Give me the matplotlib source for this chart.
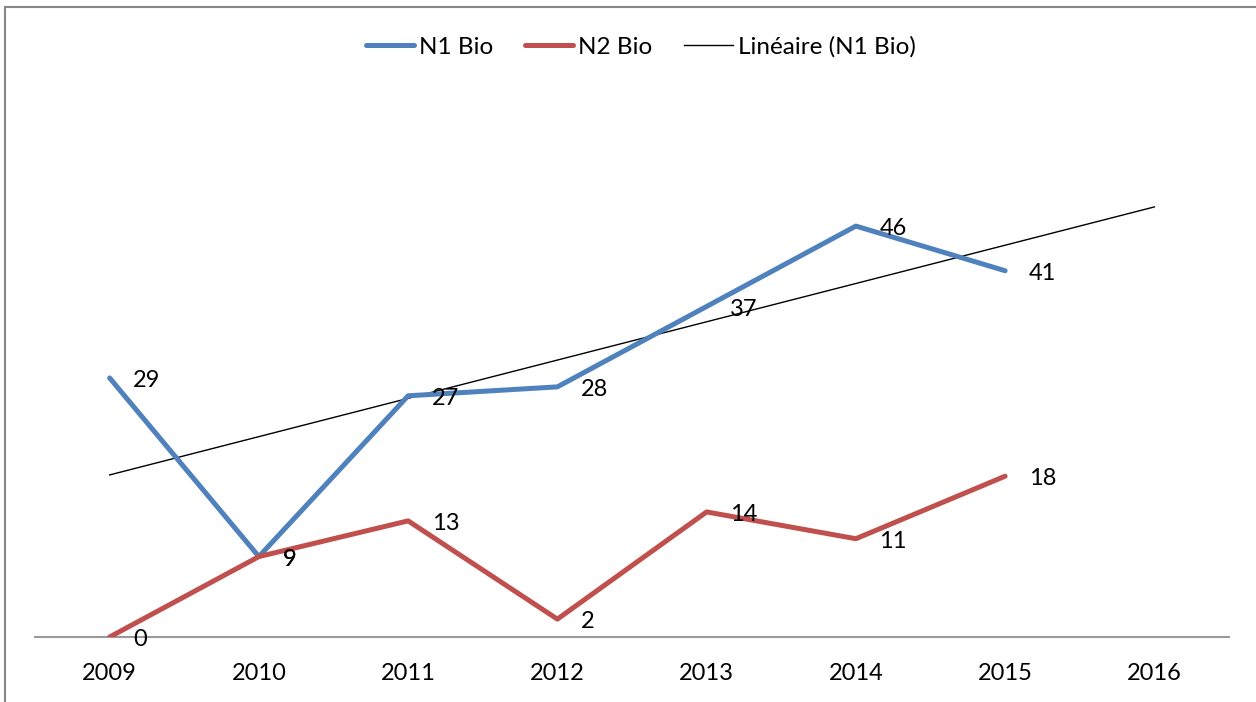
import matplotlib

matplotlib.use("Agg")
import matplotlib.pyplot as plt
import numpy as np
from matplotlib.patches import Rectangle

years = ["2009", "2010", "2011", "2012", "2013", "2014", "2015", "2016"]
n1_bio = [29, 9, 27, 28, 37, 46, 41]
n2_bio = [0, 9, 13, 2, 14, 11, 18]

plt.rcParams["font.family"] = ["Lato", "DejaVu Sans"]

fig = plt.figure(figsize=(12.56, 7.02), dpi=100)
ax = fig.add_axes([35 / 1256, 65 / 702, 1194 / 1256, 536 / 702])

x_all = np.arange(len(years))
x_data = np.arange(len(n1_bio))

blue = "#4F81BD"
red = "#C0504D"
ax.plot(x_data, n1_bio, color=blue, lw=3.6, solid_capstyle="round", label="N1 Bio", zorder=3)
ax.plot(x_data, n2_bio, color=red, lw=3.6, solid_capstyle="round", label="N2 Bio", zorder=3)

# linear trend on N1, extended one period forward like Excel
slope, intercept = np.polyfit(x_data, n1_bio, 1)
ax.plot(x_all, slope * x_all + intercept, color="black", lw=1.0,
        label="Linéaire (N1 Bio)", zorder=2)

for series in (n1_bio, n2_bio):
    for xi, yi in zip(x_data, series):
        ax.annotate(str(yi), (xi, yi), xytext=(17, -2), textcoords="offset points",
                    ha="left", va="center", fontsize=17, color="black",
                    annotation_clip=False, zorder=4)

ax.set_xlim(-0.5, len(years) - 0.5)
ax.set_ylim(0, 60)
ax.set_xticks(x_all)
ax.set_xticklabels(years, fontsize=17)
ax.tick_params(axis="x", length=0, pad=19)
ax.set_yticks([])
for side in ("top", "right", "left"):
    ax.spines[side].set_visible(False)
ax.spines["bottom"].set_color("#999999")
ax.spines["bottom"].set_linewidth(1.5)

ax.legend(loc="center", bbox_to_anchor=(0.51, 1 - 47 / 702), bbox_transform=fig.transFigure,
          ncol=3, frameon=False, fontsize=17.5, handlelength=2.0, handletextpad=0.2,
          columnspacing=1.3, borderpad=0)

fig.add_artist(Rectangle((5 / 1256, -0.1), 1.2, 1.1 - 7 / 702, transform=fig.transFigure,
                         fill=False, edgecolor="#878787", lw=1.5))

fig.savefig("out.png", dpi=100)
